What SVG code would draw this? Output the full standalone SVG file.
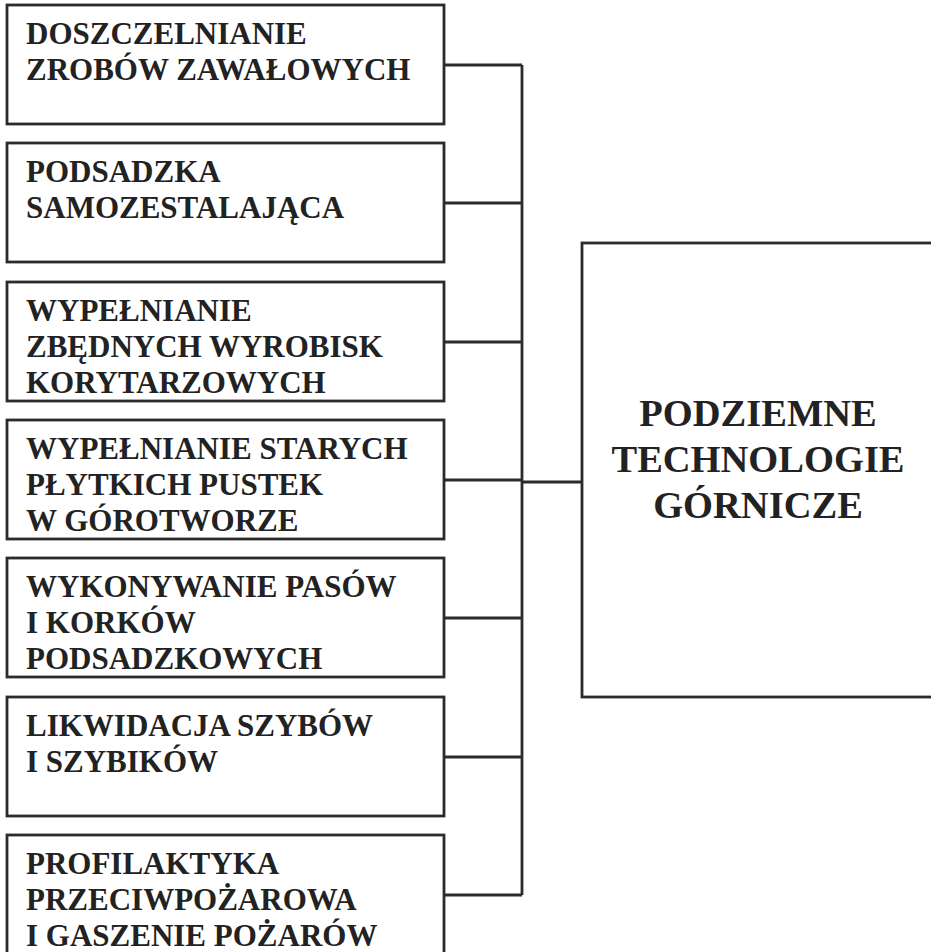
<svg xmlns="http://www.w3.org/2000/svg" width="931" height="952" viewBox="0 0 931 952">
<style>
.box{fill:#fff;stroke:#2b2b2b;stroke-width:2.8}
.t{font-family:"Liberation Serif","Times New Roman",serif;font-weight:bold;font-size:31px;fill:#222}
.tc{font-family:"Liberation Serif","Times New Roman",serif;font-weight:bold;font-size:38.5px;fill:#222;text-anchor:middle}
.ln{fill:none;stroke:#2b2b2b;stroke-width:2.8}
</style>
<rect width="931" height="952" fill="#fff"/>
<g id="connectors">
<path class="ln" d="M444 65H522M444 203H522M444 342H522M444 480H522M444 618H522M444 757H522M444 895H522M522 65V895M522 482H582"/>
</g>
<g id="n1"><rect class="box" x="7" y="5" width="437" height="119"/>
<text class="t"><tspan x="26" y="44">DOSZCZELNIANIE</tspan><tspan x="26" y="80">ZROBÓW ZAWAŁOWYCH</tspan></text></g>
<g id="n2"><rect class="box" x="7" y="143" width="437" height="119"/>
<text class="t"><tspan x="26" y="182">PODSADZKA</tspan><tspan x="26" y="218">SAMOZESTALAJĄCA</tspan></text></g>
<g id="n3"><rect class="box" x="7" y="282" width="437" height="119"/>
<text class="t"><tspan x="26" y="321">WYPEŁNIANIE</tspan><tspan x="26" y="357">ZBĘDNYCH WYROBISK</tspan><tspan x="26" y="393">KORYTARZOWYCH</tspan></text></g>
<g id="n4"><rect class="box" x="7" y="420" width="437" height="119"/>
<text class="t"><tspan x="26" y="459">WYPEŁNIANIE STARYCH</tspan><tspan x="26" y="495">PŁYTKICH PUSTEK</tspan><tspan x="26" y="531">W GÓROTWORZE</tspan></text></g>
<g id="n5"><rect class="box" x="7" y="558" width="437" height="119"/>
<text class="t"><tspan x="26" y="597">WYKONYWANIE PASÓW</tspan><tspan x="26" y="633">I KORKÓW</tspan><tspan x="26" y="669">PODSADZKOWYCH</tspan></text></g>
<g id="n6"><rect class="box" x="7" y="697" width="437" height="119"/>
<text class="t"><tspan x="26" y="736">LIKWIDACJA SZYBÓW</tspan><tspan x="26" y="772">I SZYBIKÓW</tspan></text></g>
<g id="n7"><rect class="box" x="7" y="835" width="437" height="130"/>
<text class="t"><tspan x="26" y="874">PROFILAKTYKA</tspan><tspan x="26" y="910">PRZECIWPOŻAROWA</tspan><tspan x="26" y="946">I GASZENIE POŻARÓW</tspan></text></g>
<g id="main"><rect class="box" x="582" y="243" width="370" height="454"/>
<text class="tc"><tspan x="758" y="426">PODZIEMNE</tspan><tspan x="758" y="472">TECHNOLOGIE</tspan><tspan x="758" y="518">GÓRNICZE</tspan></text></g>
</svg>
